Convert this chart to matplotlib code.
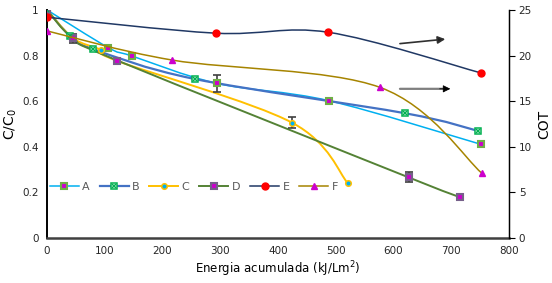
import numpy as np
import matplotlib
matplotlib.use("Agg")
import matplotlib.pyplot as plt
from matplotlib.path import Path
from matplotlib.patches import PathPatch
from matplotlib.lines import Line2D
from matplotlib.legend_handler import HandlerTuple

# data
x_A = [0, 106, 147, 294, 488, 751]
y_A = [1.0, 0.835, 0.798, 0.678, 0.602, 0.411]
x_B = [0, 40, 80, 256, 620, 747]
y_B = [1.0, 0.886, 0.828, 0.697, 0.547, 0.469]
x_C = [0, 45, 93, 122, 424, 521]
y_C = [1.0, 0.876, 0.825, 0.776, 0.506, 0.24]
x_D = [0, 45, 122, 626, 716]
y_D = [1.0, 0.876, 0.778, 0.266, 0.178]
x_E = [0, 292, 487, 751]
y_E = [24.2, 22.45, 22.55, 18.1]
x_F = [0, 217, 577, 753]
y_F = [22.7, 19.5, 16.5, 7.1]

err_A = (294, 0.678, 0.038)
err_C = (424, 0.506, 0.025)
err_D1 = (45, 0.876, 0.02)
err_D2 = (626, 0.266, 0.022)

xticks = [0, 100, 200, 300, 400, 500, 600, 700, 800]
yticks = [0, 0.2, 0.4, 0.6, 0.8, 1.0]
yticks_r = [0, 5, 10, 15, 20, 25]


def smooth_path(xs, ys):
    # excel-like smoothed line: cubic bezier through the points
    p = np.column_stack([xs, ys]).astype(float)
    n = len(p)
    verts = [p[0]]
    codes = [Path.MOVETO]
    for i in range(n - 1):
        p0 = p[i - 1] if i > 0 else p[i]
        p3 = p[i + 2] if i + 2 < n else p[i + 1]
        c1 = p[i] + (p[i + 1] - p0) / 6.0
        c2 = p[i + 1] - (p3 - p[i]) / 6.0
        verts += [c1, c2, p[i + 1]]
        codes += [Path.CURVE4] * 3
    return Path(verts, codes)


def draw(ax, xs, ys, color, lw, z):
    patch = PathPatch(smooth_path(xs, ys), facecolor="none", edgecolor=color,
                      lw=lw, transform=ax.transData, zorder=z)
    ax.add_patch(patch)


plt.rcParams["font.family"] = "DejaVu Sans"
fig = plt.figure(figsize=(5.52, 2.83), dpi=100)
ax = fig.add_axes([0.0851, 0.159, 0.837, 0.806])
ax2 = ax.twinx()

cA, cB, cC, cD, cE, cF = "#00B0F0", "#4472C4", "#FFC000", "#548235", "#203864", "#A68400"
mag = "#CC00CC"
ms = 4.3

draw(ax, x_A, y_A, cA, 1.1, 2)
draw(ax, x_B, y_B, cB, 1.6, 2)
draw(ax, x_C, y_C, cC, 1.4, 2)
draw(ax, x_D, y_D, cD, 1.4, 2)
draw(ax2, x_E, y_E, cE, 1.1, 2)
draw(ax2, x_F, y_F, cF, 1.1, 2)

ecol = "#404040"
for ex, ey, ee in [err_A, err_C, err_D1, err_D2]:
    ax.errorbar(ex, ey, yerr=ee, fmt="none", ecolor=ecol, elinewidth=1.2,
                capsize=3, capthick=1.2, zorder=3)

stA = dict(marker="s", ms=ms, mfc=mag, mec="#70AD47", mew=1.5)
stB1 = dict(marker="s", ms=ms, mfc="white", mec="#00B050", mew=1.1)
stB2 = dict(marker="x", ms=2.6, mec="#00B050", mew=1.1)
stC = dict(marker="o", ms=4, mfc=cA, mec=cC, mew=1.1)
stD = dict(marker="s", ms=ms, mfc=mag, mec="#76608A", mew=1.5)
stE = dict(marker="o", ms=5, mfc="#FF0000", mec="#FF0000")
stF = dict(marker="^", ms=5, mfc=mag, mec=mag)

ax.plot(x_A, y_A, ls="none", zorder=4, **stA)
ax.plot(x_B, y_B, ls="none", zorder=4, **stB1)
ax.plot(x_B, y_B, ls="none", zorder=5, **stB2)
ax.plot(x_C, y_C, ls="none", zorder=4, **stC)
ax.plot(x_D, y_D, ls="none", zorder=4, **stD)
ax2.plot(x_E, y_E, ls="none", zorder=4, **stE)
ax2.plot(x_F, y_F, ls="none", zorder=4, **stF)

ax.set_xlim(0, 800)
ax.set_ylim(0, 1)
ax2.set_ylim(0, 25)
ax.set_xticks(xticks)
ax.set_yticks(yticks)
ax.set_yticklabels(["0", "0.2", "0.4", "0.6", "0.8", "1"])
ax2.set_yticks(yticks_r)

for a in (ax, ax2):
    a.spines["top"].set_visible(False)
ax.spines["left"].set_color("black")
ax.spines["left"].set_linewidth(1.4)
ax.spines["bottom"].set_color("#404040")
ax.spines["bottom"].set_linewidth(1.8)
ax2.spines["right"].set_color("black")
ax2.spines["right"].set_linewidth(1.0)
ax2.spines["left"].set_visible(False)
ax2.spines["bottom"].set_visible(False)

ax.tick_params(axis="both", length=0, labelsize=7.5, pad=6, colors="#262626")
ax2.tick_params(axis="y", length=4, direction="out", labelsize=7.5, pad=3, colors="#262626")
ax2.tick_params(axis="y", color="black")

ax.set_xlabel("Energia acumulada (kJ/Lm$^2$)", fontsize=8.5, labelpad=2)
ax.set_ylabel("C/C$_0$", fontsize=10, labelpad=2)
ax2.set_ylabel("COT", fontsize=10, labelpad=4)

# arrows pointing to the right axis
ax.annotate("", xy=(0.868, 0.873), xytext=(0.758, 0.851), xycoords="axes fraction",
            arrowprops=dict(arrowstyle="-|>", fc="#202020", ec="#303030", lw=1.2, mutation_scale=11))
ax.annotate("", xy=(0.879, 0.654), xytext=(0.764, 0.654), xycoords="axes fraction",
            arrowprops=dict(arrowstyle="-", color="#7F7F7F", lw=1.6, shrinkA=0, shrinkB=4))
ax.annotate("", xy=(0.879, 0.654), xytext=(0.85, 0.654), xycoords="axes fraction",
            arrowprops=dict(arrowstyle="-|>", fc="black", ec="black", lw=0.6,
                            mutation_scale=11, shrinkA=0))

hA = Line2D([], [], color=cA, lw=1.1, **stA)
hB1 = Line2D([], [], color=cB, lw=1.6, **stB1)
hB2 = Line2D([], [], ls="none", **stB2)
hC = Line2D([], [], color=cC, lw=1.4, **stC)
hD = Line2D([], [], color=cD, lw=1.4, **stD)
hE = Line2D([], [], color=cE, lw=1.1, **stE)
hF = Line2D([], [], color=cF, lw=1.1, **stF)
leg = ax2.legend([hA, (hB1, hB2), hC, hD, hE, hF], ["A", "B", "C", "D", "E", "F"],
                 handler_map={tuple: HandlerTuple(ndivide=1, pad=0)},
                 loc="center", bbox_to_anchor=(0.318, 0.224), ncol=6, frameon=False,
                 fontsize=8, handlelength=2.6, handletextpad=0.3, columnspacing=0.9,
                 labelcolor="#595959")

fig.savefig("out.png", dpi=100)
